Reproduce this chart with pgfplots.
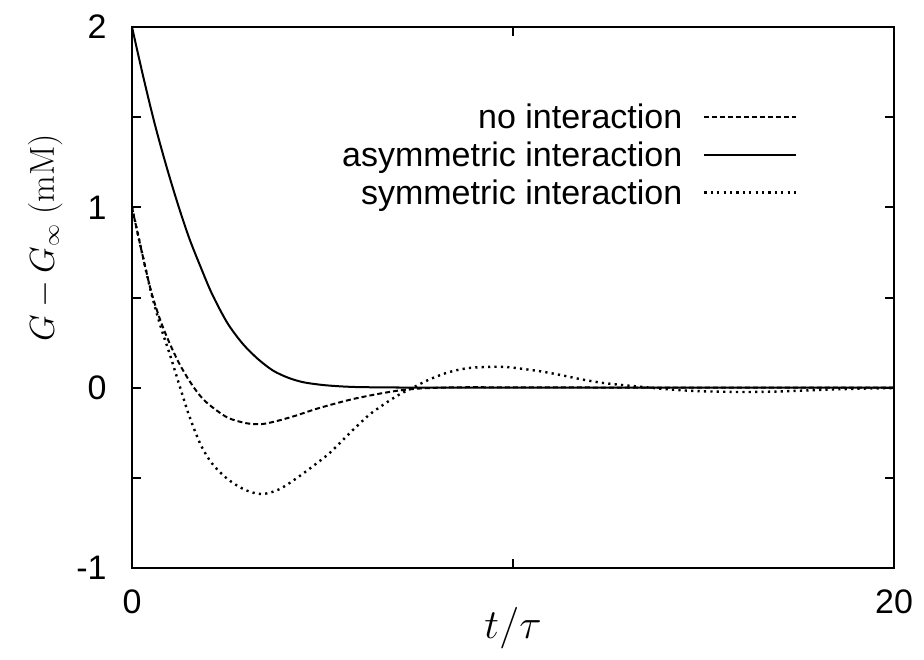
\documentclass[border=0pt]{standalone}
\usepackage[no-math]{fontspec}
\setmainfont{Liberation Sans}
\usepackage{pgfplots}
\pgfplotsset{compat=1.18}

\begin{document}
\begin{tikzpicture}
\begin{axis}[
    scale only axis,
    width=381pt, height=270.5pt,
    xmin=0, xmax=20, ymin=-1, ymax=2,
    xtick={0,10,20}, xticklabels={0,,20},
    ytick={-1,-0.5,0,0.5,1,1.5,2}, yticklabels={-1,,0,,1,,2},
    tick align=inside, major tick length=4.5pt,
    axis line style={line width=1pt},
    every tick/.style={black, line width=1pt},
    tick label style={font=\fontsize{17}{20}\selectfont, inner sep=0pt},
    xticklabel style={anchor=base, yshift=-22.5pt},
    yticklabel style={anchor=east, xshift=-12.5pt},
    xlabel={$t/\tau$},
    ylabel={$G-G_\infty\ (\mathrm{mM})$},
    xlabel style={font=\fontsize{20.5}{24}\selectfont,
        at={(axis description cs:0.5,-0.112)}, anchor=center},
    ylabel style={font=\fontsize{16}{19}\selectfont,
        at={(axis description cs:-0.114,0.61)}, anchor=center},
    legend style={draw=none, fill=none, at={(axis description cs:0.882,0.869)},
        anchor=north east, legend plot pos=right, legend cell align=right,
        font=\fontsize{17}{20}\selectfont, row sep=0pt, column sep=10.5pt,
        nodes={inner sep=0pt, text height=13pt, text depth=6pt}},
    legend image code/.code={\draw[#1] (0pt,2.3pt) -- (46pt,2.3pt);},
]

% no interaction
\addplot[black, line width=1pt, dash pattern=on 2.5pt off 1.5pt, smooth] coordinates {
(0,1.0)(0.25,0.76)(0.5,0.535)(0.75,0.37)(1.0,0.24)(1.25,0.13)(1.5,0.04)
(1.75,-0.035)(2.0,-0.09)(2.5,-0.165)(3.0,-0.197)(3.4,-0.202)(3.8,-0.185)
(4.3,-0.155)(4.8,-0.12)(5.3,-0.09)(5.8,-0.063)(6.4,-0.037)(7.0,-0.016)
(7.6,-0.004)(8.5,0.002)(10,0.002)(12,0.001)(14,0)(20,0)
};
\addlegendentry{no interaction}

% asymmetric interaction
\addplot[black, line width=1pt, smooth] coordinates {
(0,2.0)(0.3,1.72)(0.6,1.46)(0.9,1.23)(1.2,1.02)(1.5,0.83)(1.8,0.67)
(2.1,0.52)(2.5,0.36)(2.9,0.245)(3.3,0.16)(3.7,0.095)(4.1,0.055)(4.5,0.03)
(5.0,0.015)(5.5,0.007)(6.0,0.003)(7.0,0.001)(8.0,0)(20,0)
};
\addlegendentry{asymmetric interaction}

% symmetric interaction
\addplot[black, line width=1.2pt, dash pattern=on 1.1pt off 2.1pt, smooth] coordinates {
(0,1.0)(0.25,0.76)(0.5,0.53)(0.75,0.34)(1.0,0.18)(1.25,0.01)(1.5,-0.155)
(1.8,-0.315)(2.1,-0.42)(2.5,-0.505)(2.95,-0.565)(3.4,-0.59)(3.85,-0.565)
(4.3,-0.505)(4.75,-0.435)(5.2,-0.36)(5.7,-0.255)(6.2,-0.155)(6.6,-0.094)
(7.0,-0.04)(7.4,0.003)(7.8,0.045)(8.3,0.085)(8.8,0.108)(9.3,0.115)
(9.8,0.115)(10.3,0.103)(10.8,0.088)(11.3,0.068)(11.8,0.046)(12.3,0.028)
(12.8,0.016)(13.3,0.006)(13.8,-0.004)(14.3,-0.013)(15,-0.02)(16,-0.024)
(17,-0.021)(18,-0.013)(19,-0.006)(20,-0.002)
};
\addlegendentry{symmetric interaction}

\end{axis}
\pgfresetboundingbox
\path ([shift={(-66pt,-45.5pt)}]current axis.south west)
    rectangle ([shift={(15pt,13.5pt)}]current axis.north east);
\end{tikzpicture}
\end{document}
